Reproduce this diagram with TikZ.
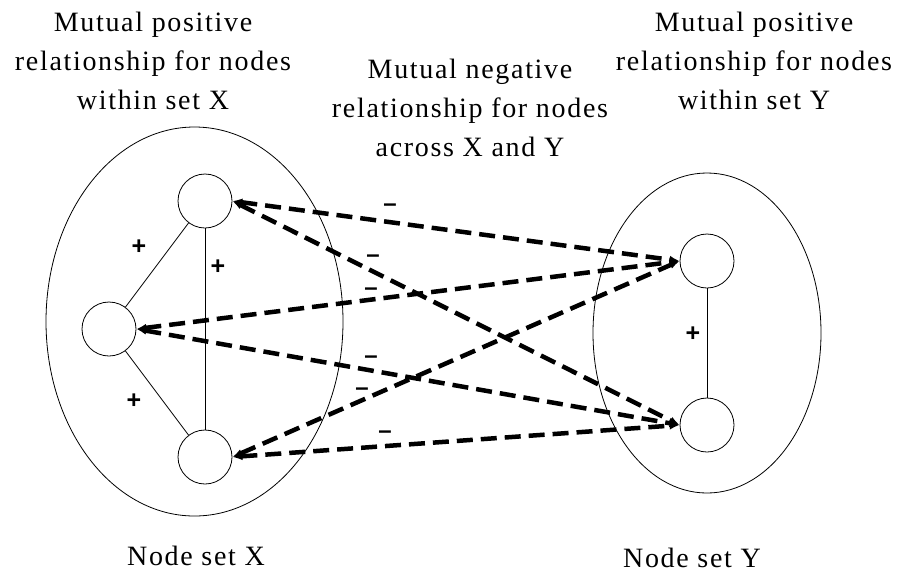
\documentclass[tikz,border=0pt]{standalone}
\usepackage{fontspec}
\setmainfont{Liberation Serif}[LetterSpace=6]
\newfontfamily\signfont{Liberation Sans}
\usetikzlibrary{shapes.geometric,arrows.meta}
\begin{document}
\begin{tikzpicture}[x=1pt,y=-1pt,
  setoval/.style={draw, ellipse, line width=0.8pt, inner sep=0},
  member/.style={draw, circle, minimum size=54pt, inner sep=0, line width=0.8pt, fill=white},
  posline/.style={line width=0.8pt},
  negline/.style={line width=4.5pt, dash pattern=on 16pt off 8pt,
    {Latex[length=10pt,width=8pt]}-{Latex[length=10pt,width=8pt]}},
  title/.style={align=center, font=\fontsize{28}{39}\selectfont, inner sep=0},
  plussign/.style={font=\signfont\bfseries\fontsize{25}{25}\selectfont, inner sep=0},
  minussign/.style={font=\signfont\bfseries\fontsize{24}{24}\selectfont, inner sep=0}]
\useasboundingbox (0,0) rectangle (901,574);

% sets
\node[setoval, minimum width=297pt, minimum height=389pt] (setX) at (194.5,321.5) {};
\node[setoval, minimum width=228pt, minimum height=320pt] (setY) at (707,333) {};

% members
\node[member] (xt) at (205,201) {};
\node[member] (xm) at (109,329) {};
\node[member] (xb) at (205,457) {};
\node[member] (yt) at (707,261) {};
\node[member] (yb) at (707,425) {};

% positive links
\draw[posline] (xt) -- (xm);
\draw[posline] (xm) -- (xb);
\draw[posline] (xt) -- (xb);
\draw[posline] (yt) -- (yb);

% negative links
\draw[negline] (xt.east) -- (yt.west);
\draw[negline] (xt.east) -- (yb.west);
\draw[negline] (xm.east) -- (yt.west);
\draw[negline] (xm.east) -- (yb.west);
\draw[negline] (xb.east) -- (yt.west);
\draw[negline] (xb.east) -- (yb.west);

% signs
\node[plussign] (p1) at (139,247) {+};
\node[plussign] (p2) at (218,267) {+};
\node[plussign] (p3) at (134,401) {+};
\node[plussign] (p4) at (693,334) {+};
\node[minussign] (m1) at (390,208) {–};
\node[minussign] (m2) at (373,259) {–};
\node[minussign] (m3) at (371,292) {–};
\node[minussign] (m4) at (371,360) {–};
\node[minussign] (m5) at (362,392) {–};
\node[minussign] (m6) at (385,435) {–};

% titles
\node[title] (tX) at (153,61) {Mutual positive\\relationship for nodes\\within set X};
\node[title] (tN) at (470,108) {Mutual negative\\relationship for nodes\\across X and Y};
\node[title] (tY) at (754,61) {Mutual positive\\relationship for nodes\\within set Y};
\node[title, anchor=base] (lX) at (196,565) {Node set X};
\node[title, anchor=base] (lY) at (692,567) {Node set Y};
\end{tikzpicture}
\end{document}
